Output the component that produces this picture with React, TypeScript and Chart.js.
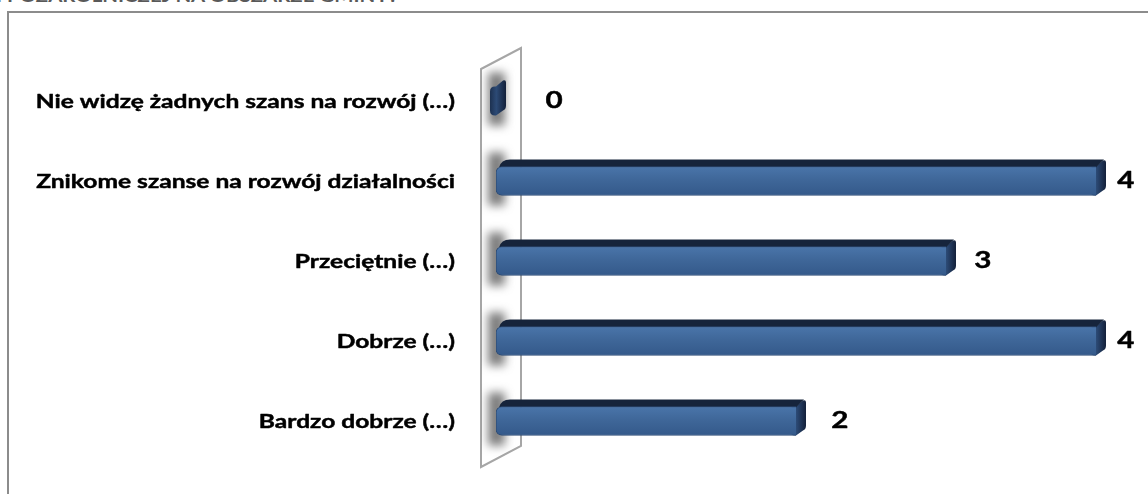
import React, { useEffect, useRef } from "react";
import { Chart, registerables } from "chart.js";

Chart.register(...registerables);

const categories = [
  "Nie widzę żadnych szans na rozwój (…)",
  "Znikome szanse na rozwój działalności",
  "Przeciętnie (…)",
  "Dobrze (…)",
  "Bardzo dobrze (…)",
];
const values = [0, 4, 3, 4, 2];
const axisMin = 0;
const axisMax = 4;
const titleText = "I POZAROLNICZEJ NA OBSZARZE GMINY?";

const FONT = "Lato";
const STRETCH = 1.26; // the reference picture is horizontally stretched
const DX = 10;
const DY = 7;

function endFacePath(ctx: CanvasRenderingContext2D, x: number, top: number, bottom: number) {
  ctx.beginPath();
  ctx.moveTo(x - 6, top);
  ctx.lineTo(x, top);
  ctx.lineTo(x + DX - 3, top - DY + 1);
  ctx.quadraticCurveTo(x + DX, top - DY, x + DX, top - DY + 3);
  ctx.lineTo(x + DX, bottom - DY - 3);
  ctx.quadraticCurveTo(x + DX, bottom - DY + 1, x + DX - 3, bottom - DY + 2);
  ctx.lineTo(x, bottom);
  ctx.lineTo(x - 1, bottom);
  ctx.quadraticCurveTo(x - 6, bottom, x - 6, bottom - 5);
  ctx.lineTo(x - 6, top + 5);
  ctx.quadraticCurveTo(x - 6, top, x - 1, top);
  ctx.closePath();
}

const threeD = {
  id: "threeD",
  beforeDatasetsDraw(chart: any) {
    const { ctx, chartArea: a } = chart;
    const L = a.left;
    ctx.save();
    // back wall
    ctx.beginPath();
    ctx.moveTo(L - 15, a.top + 8);
    ctx.lineTo(L + 25, a.top - 13);
    ctx.lineTo(L + 25, a.bottom - 15);
    ctx.lineTo(L - 15, a.bottom + 6);
    ctx.closePath();
    ctx.fillStyle = "#ffffff";
    ctx.fill();
    ctx.lineWidth = 2;
    ctx.strokeStyle = "#a6a6a6";
    ctx.stroke();
    const meta = chart.getDatasetMeta(0);
    // shadows on the wall
    ctx.save();
    ctx.clip();
    ctx.filter = "blur(5px)";
    ctx.fillStyle = "rgba(70,70,70,0.7)";
    meta.data.forEach((bar: any) => {
      const { y, height } = bar.getProps(["y", "height"], true);
      ctx.fillRect(L - 8, y - height / 2 - DY - 7, 17, height + DY + 17);
    });
    ctx.restore();
    meta.data.forEach((bar: any) => {
      const { x, y, base, height } = bar.getProps(["x", "y", "base", "height"], true);
      const top = y - height / 2;
      const bottom = y + height / 2;
      // end face (behind the front face)
      const g = ctx.createLinearGradient(x - 6, 0, x + DX, 0);
      g.addColorStop(0, "#1d3150");
      g.addColorStop(0.4, "#2c4a75");
      g.addColorStop(1, "#13203a");
      endFacePath(ctx, x, top, bottom);
      ctx.fillStyle = g;
      ctx.fill();
      // top face
      if (x - base < 1) return;
      ctx.beginPath();
      ctx.moveTo(base + 3, top + 1);
      ctx.quadraticCurveTo(base + 5, top - DY, base + DX + 4, top - DY);
      ctx.lineTo(x + DX - 2, top - DY);
      ctx.lineTo(x, top + 1);
      ctx.closePath();
      ctx.fillStyle = "#16243b";
      ctx.fill();
    });
    ctx.restore();
  },
  afterDatasetsDraw(chart: any) {
    const { ctx } = chart;
    const xs = chart.scales.x;
    const ys = chart.scales.y;
    const meta = chart.getDatasetMeta(0);
    ctx.save();
    ctx.fillStyle = "#000000";
    ctx.strokeStyle = "#000000";
    ctx.lineWidth = 0.45;
    ctx.lineJoin = "round";
    meta.data.forEach((bar: any, i: number) => {
      const { y } = bar.getProps(["y"], true);
      // value label (outside end, on the 3D label plane)
      const v = values[i];
      const lx = xs.getPixelForValue(v * 0.953) + 58;
      ctx.save();
      ctx.translate(lx, y - 1);
      ctx.scale(STRETCH, 1);
      ctx.font = `bold 23.5px ${FONT}`;
      ctx.textAlign = "center";
      ctx.textBaseline = "middle";
      ctx.fillText(String(v), 0, 0);
      ctx.strokeText(String(v), 0, 0);
      ctx.restore();
    });
    // category labels
    const rightX = chart.chartArea.left - 41;
    categories.forEach((label, i) => {
      const y = ys.getPixelForTick(i);
      ctx.save();
      ctx.translate(rightX, y + 1);
      ctx.scale(STRETCH, 1);
      ctx.font = `bold 19.5px ${FONT}`;
      ctx.textAlign = "right";
      ctx.textBaseline = "middle";
      ctx.fillText(label, 0, 0);
      ctx.strokeText(label, 0, 0);
      ctx.restore();
    });
    ctx.restore();
  },
};

export default function App() {
  const ref = useRef<HTMLCanvasElement | null>(null);
  useEffect(() => {
    if (!ref.current) return;
    const chart = new Chart(ref.current, {
      type: "bar",
      data: {
        labels: categories,
        datasets: [
          {
            data: values,
            barThickness: 29,
            borderWidth: 1,
            borderColor: "#2c4b75",
            borderSkipped: "end",
            borderRadius: 6,
            backgroundColor: (c: any) => {
              const { ctx, chartArea } = c.chart;
              const ys = c.chart.scales.y;
              if (!chartArea || !ys) return "#3e6697";
              const y = ys.getPixelForValue(c.dataIndex);
              const g = ctx.createLinearGradient(0, y - 14.5, 0, y + 14.5);
              g.addColorStop(0, "#4a75aa");
              g.addColorStop(0.45, "#3f6799");
              g.addColorStop(1, "#34598a");
              return g;
            },
          },
        ],
      },
      options: {
        indexAxis: "y",
        animation: false,
        responsive: false,
        maintainAspectRatio: false,
        layout: { padding: { top: 61, bottom: 33, right: 52, left: 0 } },
        plugins: {
          legend: { display: false },
          tooltip: { enabled: false },
          title: { display: false },
        },
        scales: {
          x: {
            display: false,
            min: axisMin,
            max: axisMax,
          },
          y: {
            grid: { display: false, drawTicks: false },
            border: { display: false },
            ticks: { display: false },
            afterFit: (axis: any) => {
              axis.width = 496;
              axis.paddingTop = 0;
              axis.paddingBottom = 0;
            },
          },
        },
      },
      plugins: [threeD],
    });
    return () => chart.destroy();
  }, []);

  return (
    <div
      style={{
        position: "absolute",
        left: 0,
        top: 0,
        width: 1148,
        height: 494,
        overflow: "hidden",
        background: "#ffffff",
      }}
    >
      <div
        style={{
          position: "absolute",
          left: -4,
          top: -13,
          whiteSpace: "nowrap",
          fontFamily: FONT,
          fontWeight: "bold",
          fontSize: 17,
          lineHeight: "17px",
          color: "#595959",
          transform: "scaleX(1.2)",
          transformOrigin: "0 0",
        }}
      >
        {titleText}
      </div>
      <div
        style={{
          position: "absolute",
          left: 7,
          top: 11,
          width: 1300,
          height: 700,
          border: "2px solid #8c8c8c",
          boxSizing: "border-box",
        }}
      />
      <canvas
        ref={ref}
        width={1148}
        height={494}
        style={{ position: "absolute", left: 0, top: 0, width: 1148, height: 494 }}
      />
    </div>
  );
}
